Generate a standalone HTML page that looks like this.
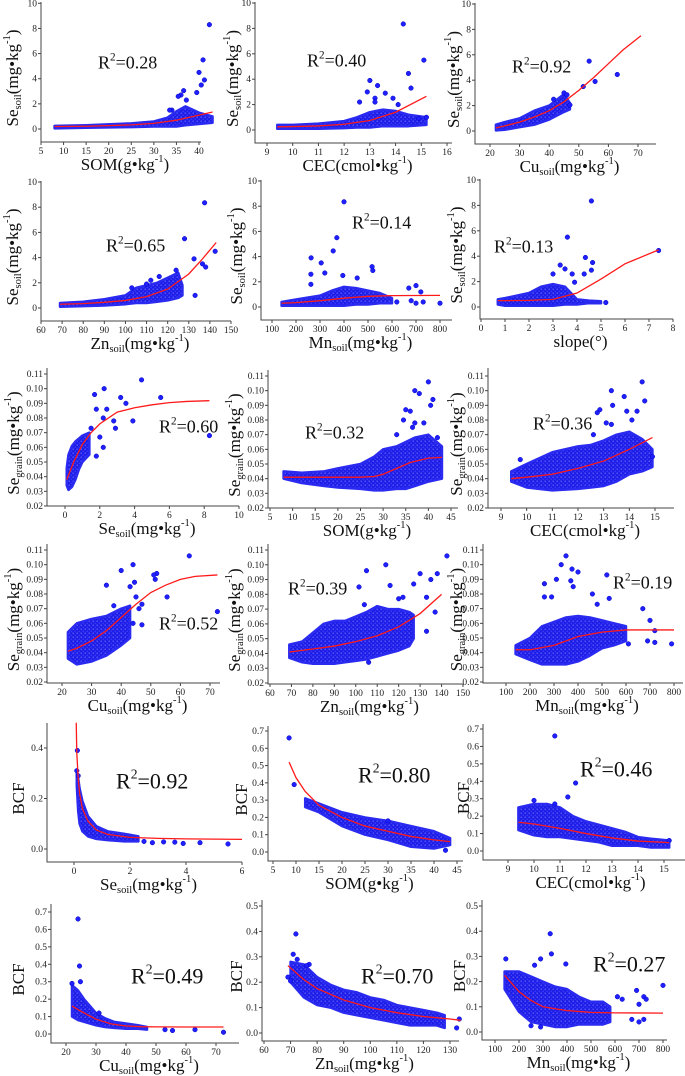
<!DOCTYPE html>
<html><head><meta charset="utf-8"><style>
html,body{margin:0;padding:0;background:#fff;}
svg{display:block;font-family:"Liberation Serif",serif;}
</style></head><body>
<svg id="fig" width="685" height="1076" viewBox="0 0 685 1076" xmlns="http://www.w3.org/2000/svg">
<defs>
<pattern id="dots" width="4" height="4" patternUnits="userSpaceOnUse">
<rect width="4" height="4" fill="#1e1ee8"/>
<circle cx="1.2" cy="1.2" r="0.7" fill="#6a6aff"/>
<circle cx="3.2" cy="3.2" r="0.6" fill="#4a4aff"/>
</pattern>
</defs>
</svg>
<script>
// ---------- DATA (per panel) ----------
const p1_curveX=[8,15,20,25,30,35,40,43], p1_curveY=[0.2,0.22,0.27,0.33,0.45,0.7,1.1,1.35];
const p1_bandX=[8,15,25,30,33,35,37,40,43], p1_bandLo=[0.05,0.1,0.15,0.2,0.2,0.2,0.3,0.4,0.5], p1_bandHi=[0.25,0.3,0.45,0.6,0.9,1.4,1.8,1.3,1.0];
const p1_ptX=[42.3,40.9,40,41.2,40.5,36.6,36,35.4,37.2,34,33.5,39.5], p1_ptY=[8.3,5.5,4.5,3.9,3.5,3.05,2.7,2.6,2.3,1.5,1.5,2.9];

const p2_curveX=[9.4,10,11,12,13,14,15.2], p2_curveY=[0.25,0.27,0.32,0.45,0.75,1.4,2.65];
const p2_bandX=[9.4,10,11,12,12.5,13,13.5,14,14.5,15.2], p2_bandLo=[0.1,0.1,0.1,0.15,0.2,0.2,0.3,0.3,0.3,0.4], p2_bandHi=[0.4,0.4,0.5,0.7,1.0,1.4,1.6,1.5,1.2,1.0];
const p2_ptX=[14.3,15.1,14.5,13,12.9,13.3,13.6,14.6,13.2,12.6,13.9,13.2,14.1,15.2,14.9], p2_ptY=[8.35,5.5,4.45,3.9,3.0,3.5,2.9,3.3,2.5,2.2,2.5,2.2,2.0,1.0,0.9];

const p3_curveX=[22,25,30,35,40,45,50,55,60,65,71], p3_curveY=[0.25,0.4,0.7,1.1,1.6,2.3,3.2,4.2,5.3,6.4,7.5];
const p3_bandX=[22,25,30,35,40,45,47], p3_bandLo=[0.05,0.1,0.3,0.5,0.9,1.5,1.7], p3_bandHi=[0.5,0.7,1.0,1.6,2.0,2.9,2.2];
const p3_ptX=[53.5,63,55.5,51.5,45,46,41.5,47], p3_ptY=[5.5,4.45,3.9,3.5,3.0,2.85,2.5,2.05];

const p4_curveX=[69,80,90,100,110,120,130,136,143], p4_curveY=[0.3,0.35,0.45,0.6,0.9,1.5,2.7,3.8,5.2];
const p4_bandX=[69,80,90,100,105,110,115,120,125,127], p4_bandLo=[0.1,0.15,0.2,0.3,0.4,0.4,0.5,0.6,0.8,1.0], p4_bandHi=[0.4,0.5,0.7,1.0,1.6,1.8,2.0,2.4,2.8,1.8];
const p4_ptX=[137.5,128,132.5,136.5,142.5,138,133,124,112,116,103,110], p4_ptY=[8.35,5.5,3.9,3.5,4.5,3.25,1.0,3.0,2.2,2.5,1.6,1.9];

const p5_curveX=[140,200,300,400,500,600,800], p5_curveY=[0.3,0.35,0.5,0.7,0.85,0.9,0.92];
const p5_bandX=[140,200,300,350,400,450,500,550,600], p5_bandLo=[0.1,0.1,0.1,0.1,0.1,0.2,0.2,0.3,0.3], p5_bandHi=[0.4,0.6,0.9,1.3,1.6,1.5,1.3,1.1,0.7];
const p5_ptX=[400,370,355,263,305,517,262,320,395,455,520,262,700,670,720,800,730,680,620,700], p5_ptY=[8.35,5.5,4.45,3.9,3.5,3.2,2.6,2.7,2.5,2.3,2.9,1.8,1.7,1.5,1.2,0.3,0.4,0.5,0.4,0.3];

const p6_curveX=[0.7,1,2,3,4,5,6,7.4], p6_curveY=[0.5,0.5,0.52,0.6,1.1,2.2,3.4,4.5];
const p6_bandX=[0.7,1,1.5,2,2.5,3,3.5,4,4.5,5], p6_bandLo=[0.2,0.1,0.1,0.1,0.1,0.1,0.2,0.2,0.3,0.3], p6_bandHi=[0.6,0.7,0.9,1.1,1.6,1.8,1.6,0.6,0.5,0.45];
const p6_ptX=[4.6,3.6,7.4,4.35,4.65,3.3,3.5,4.6,3.8,4.3,3,5.2,3.9], p6_ptY=[8.35,5.5,4.45,3.9,3.5,3.3,3.0,2.9,2.6,2.6,2.6,0.35,1.95];

const p7_curveX=[0.1,0.5,1,1.5,2,3,4,5,6,7,8.3], p7_curveY=[0.038,0.05,0.062,0.07,0.076,0.084,0.087,0.089,0.0905,0.0913,0.0918];
const p7_bandX=[0.1,0.2,0.4,0.6,0.8,1.0,1.4], p7_bandLo=[0.034,0.031,0.033,0.038,0.045,0.05,0.055], p7_bandHi=[0.046,0.055,0.061,0.064,0.066,0.068,0.07];
const p7_ptX=[4.4,2.25,1.7,3.2,5.5,3.5,1.8,2.4,2.2,3.9,2.8,2.9,2.2,1.8,8.3,1.5,2.0], p7_ptY=[0.106,0.1,0.096,0.094,0.094,0.09,0.086,0.086,0.08,0.078,0.078,0.073,0.06,0.054,0.068,0.073,0.067];

const p8_curveX=[8,15,20,25,28,30,33,36,40,43], p8_curveY=[0.041,0.041,0.041,0.041,0.0415,0.043,0.047,0.051,0.054,0.0545];
const p8_bandX=[8,12,17,20,25,28,30,33,35,37,40,43], p8_bandLo=[0.04,0.037,0.035,0.034,0.033,0.032,0.032,0.033,0.033,0.035,0.038,0.04], p8_bandHi=[0.045,0.044,0.045,0.047,0.05,0.055,0.06,0.062,0.065,0.068,0.07,0.062];
const p8_ptX=[40,37,38,40.5,41,35,36,34.5,37,33,36.5,39,42], p8_ptY=[0.106,0.1,0.098,0.09,0.094,0.087,0.086,0.08,0.078,0.07,0.075,0.078,0.068];

const p9_curveX=[9.4,10,11,12,13,14,14.9], p9_curveY=[0.04,0.041,0.043,0.047,0.052,0.06,0.068];
const p9_bandX=[9.4,10,11,12,12.5,13,13.5,14,14.5,14.9], p9_bandLo=[0.038,0.034,0.032,0.033,0.034,0.035,0.038,0.043,0.045,0.048], p9_bandHi=[0.045,0.05,0.058,0.062,0.063,0.066,0.07,0.072,0.067,0.06];
const p9_ptX=[14.5,13.3,13.8,14.6,13.35,12.85,12.75,13.9,14.3,14.1,13.1,13.3,12.6,9.75,14.9], p9_ptY=[0.106,0.1,0.096,0.093,0.09,0.087,0.085,0.086,0.086,0.08,0.078,0.077,0.07,0.053,0.055];

const p10_curveX=[22,25,30,35,40,45,50,55,60,65,72.5], p10_curveY=[0.041,0.043,0.048,0.055,0.064,0.073,0.081,0.086,0.09,0.092,0.093];
const p10_bandX=[22,25,30,35,40,43], p10_bandLo=[0.036,0.032,0.034,0.038,0.045,0.05], p10_bandHi=[0.054,0.06,0.063,0.065,0.07,0.072];
const p10_ptX=[63,44,40,52,51,51.5,44.5,43,35,45,55.5,47,46,37.5,44,47,72.5], p10_ptY=[0.106,0.1,0.096,0.094,0.093,0.09,0.088,0.085,0.086,0.078,0.078,0.073,0.07,0.072,0.06,0.059,0.068];

const p11_curveX=[69,80,90,100,110,120,130,140], p11_curveY=[0.041,0.043,0.045,0.048,0.052,0.058,0.067,0.08];
const p11_bandX=[69,75,80,85,90,95,100,105,110,115,120,125,127], p11_bandLo=[0.037,0.034,0.033,0.033,0.033,0.034,0.035,0.036,0.038,0.04,0.042,0.045,0.05], p11_bandHi=[0.046,0.048,0.054,0.06,0.062,0.062,0.065,0.068,0.072,0.07,0.07,0.068,0.066];
const p11_ptX=[142.5,114,105,130,138,135,116,101.5,127,122,133,104,120,137,133,106], p11_ptY=[0.106,0.1,0.096,0.094,0.094,0.09,0.086,0.085,0.087,0.078,0.078,0.073,0.077,0.068,0.055,0.034];

const p12_curveX=[140,200,300,400,500,600,800], p12_curveY=[0.042,0.042,0.045,0.051,0.054,0.0555,0.0555];
const p12_bandX=[140,200,250,300,350,400,450,500,550,600], p12_bandLo=[0.039,0.035,0.032,0.032,0.032,0.034,0.038,0.043,0.045,0.048], p12_bandHi=[0.045,0.05,0.058,0.061,0.064,0.065,0.064,0.062,0.06,0.058];
const p12_ptX=[350,330,375,400,260,520,310,380,370,260,460,290,670,700,720,790,720,690,610,530,480], p12_ptY=[0.106,0.1,0.097,0.095,0.087,0.093,0.09,0.085,0.089,0.078,0.08,0.078,0.07,0.062,0.055,0.046,0.047,0.048,0.046,0.077,0.073];

const p13_curveX=[0.08,0.1,0.15,0.2,0.3,0.5,0.8,1.2,2,3,4,6], p13_curveY=[0.5,0.38,0.28,0.22,0.16,0.11,0.075,0.058,0.046,0.042,0.04,0.038];
const p13_bandX=[0.1,0.15,0.2,0.3,0.5,0.8,1.2,1.8,2.3], p13_bandLo=[0.25,0.15,0.1,0.07,0.05,0.04,0.035,0.03,0.03], p13_bandHi=[0.31,0.28,0.24,0.19,0.13,0.09,0.07,0.06,0.05];
const p13_ptX=[0.12,0.1,0.15,2.5,2.8,3.2,3.6,3.9,4.5,5.5], p13_ptY=[0.39,0.31,0.29,0.03,0.025,0.028,0.027,0.022,0.025,0.02];

const p14_curveX=[8.5,10,12,15,20,25,30,35,40,43.5], p14_curveY=[0.52,0.43,0.35,0.27,0.2,0.15,0.12,0.09,0.07,0.06];
const p14_bandX=[12,15,20,25,30,35,40,43.5], p14_bandLo=[0.26,0.23,0.15,0.1,0.07,0.03,0.02,0.04], p14_bandHi=[0.31,0.28,0.23,0.2,0.18,0.15,0.12,0.08];
const p14_ptX=[8.5,9.6,30,42.5], p14_ptY=[0.66,0.39,0.18,0.01];

const p15_curveX=[9.4,10,11,12,13,14,15.2], p15_curveY=[0.165,0.155,0.13,0.1,0.075,0.057,0.048];
const p15_bandX=[9.4,10,10.5,11,11.5,12,12.5,13,13.5,14,14.5,15.2], p15_bandLo=[0.12,0.09,0.08,0.08,0.07,0.06,0.05,0.03,0.03,0.03,0.02,0.02], p15_bandHi=[0.25,0.27,0.27,0.25,0.2,0.17,0.15,0.13,0.11,0.08,0.07,0.06];
const p15_ptX=[10.8,11.6,11.3,10.8,10,15.2], p15_ptY=[0.66,0.39,0.31,0.27,0.29,0.06];

const p16_curveX=[22,25,30,35,40,45,50,60,72.5], p16_curveY=[0.16,0.13,0.085,0.058,0.046,0.042,0.041,0.04,0.04];
const p16_bandX=[22,24,26,28,30,33,36,40,44,47], p16_bandLo=[0.1,0.08,0.07,0.06,0.05,0.04,0.035,0.03,0.03,0.025], p16_bandHi=[0.28,0.25,0.2,0.16,0.12,0.09,0.07,0.06,0.05,0.04];
const p16_ptX=[24,24.5,24.8,22,31,53,55.5,63,72.5], p16_ptY=[0.66,0.39,0.3,0.29,0.12,0.025,0.02,0.025,0.01];

const p17_curveX=[69,75,80,90,100,110,120,130,134], p17_curveY=[0.265,0.21,0.175,0.13,0.1,0.08,0.065,0.055,0.05];
const p17_bandX=[70,75,80,85,90,95,100,105,110,115,120,125,128], p17_bandLo=[0.2,0.14,0.11,0.1,0.08,0.07,0.06,0.05,0.04,0.03,0.03,0.03,0.02], p17_bandHi=[0.28,0.27,0.22,0.19,0.17,0.16,0.14,0.13,0.11,0.1,0.09,0.08,0.07];
const p17_ptX=[72,71,72.5,69,70,77,76,132.5,133.5], p17_ptY=[0.39,0.31,0.29,0.22,0.205,0.27,0.265,0.02,0.055];

const p18_curveX=[140,200,250,300,400,500,600,800], p18_curveY=[0.225,0.16,0.125,0.1,0.085,0.078,0.076,0.075];
const p18_bandX=[140,200,250,300,350,400,450,500,550,580], p18_bandLo=[0.17,0.08,0.04,0.03,0.02,0.02,0.03,0.03,0.03,0.04], p18_bandHi=[0.24,0.24,0.22,0.2,0.18,0.17,0.14,0.12,0.12,0.1];
const p18_ptX=[330,335,290,145,395,265,800,690,720,730,700,670,700,720,610,630,290,250], p18_ptY=[0.39,0.31,0.29,0.29,0.27,0.265,0.185,0.165,0.14,0.13,0.11,0.05,0.04,0.05,0.14,0.13,0.02,0.025];

const r2Labels=["0.28","0.40","0.92","0.65","0.14","0.13","0.60","0.32","0.36","0.52","0.39","0.19","0.92","0.80","0.46","0.49","0.70","0.27"];
const ticksSe=[0,2,4,6,8,10], ticksGrain=[0.02,0.03,0.04,0.05,0.06,0.07,0.08,0.09,0.10,0.11];
const ticksBCF4=[0.0,0.2,0.4], ticksBCF7=[0,0.1,0.2,0.3,0.4,0.5,0.6,0.7], ticksBCF5=[0,0.1,0.2,0.3,0.4,0.5];
const ticksSOM=[5,10,15,20,25,30,35,40], ticksSOM45=[5,10,15,20,25,30,35,40,45], ticksCEC16=[9,10,11,12,13,14,15,16], ticksCEC15=[9,10,11,12,13,14,15];
const ticksCu=[20,30,40,50,60,70], ticksZn150=[60,70,80,90,100,110,120,130,140,150], ticksZn130=[60,70,80,90,100,110,120,130];
const ticksMn=[100,200,300,400,500,600,700,800], ticksSlope=[0,1,2,3,4,5,6,7,8], ticksSeSoil10=[0,2,4,6,8,10], ticksSeSoil6=[0,2,4,6];

// ---------- LAYOUT ----------
const SE=[["Se","n"],["soil","sub"],["(mg•kg","n"],["-1","sup"],[")","n"]];
const SEG=[["Se","n"],["grain","sub"],["(mg•kg","n"],["-1","sup"],[")","n"]];
const BCF=[["BCF","n"]];
const XSOM=[["SOM(g•kg","n"],["-1","sup"],[")","n"]], XCEC=[["CEC(cmol•kg","n"],["-1","sup"],[")","n"]];
const mk=n=>[[n,"n"],["soil","sub"],["(mg•kg","n"],["-1","sup"],[")","n"]];
const XSLOPE=[["slope(°)","n"]];
const panels=[
 {id:1,L:41,R:201,T:2,B:142,xm:[5,41,40,199],ym:[0,129,10,3.3],xt:ticksSOM,yt:ticksSe,yd:0,xl:XSOM,yl:SE,ylx:12,r2:[98,62],rs:18},
 {id:2,L:255,R:452,T:2,B:143,xm:[9,267,16,447],ym:[0,130,10,3],xt:ticksCEC16,yt:ticksSe,yd:0,xl:XCEC,yl:SE,ylx:232,r2:[307,60],rs:18},
 {id:3,L:475,R:656,T:3,B:144,xm:[20,490,70,638],ym:[0,131,10,4],xt:ticksCu,yt:ticksSe,yd:0,xl:mk("Cu"),yl:SE,ylx:453,r2:[512,66],rs:18},
 {id:4,L:41,R:231,T:181,B:321,xm:[60,41,150,231],ym:[0,308,10,182],xt:ticksZn150,yt:ticksSe,yd:0,xl:mk("Zn"),yl:SE,ylx:12,r2:[106,245],rs:18},
 {id:5,L:261,R:452,T:180,B:320,xm:[100,272,800,440],ym:[0,307,10,181],xt:ticksMn,yt:ticksSe,yd:0,xl:mk("Mn"),yl:SE,ylx:236,r2:[352,222],rs:18},
 {id:6,L:480,R:673,T:179,B:319,xm:[0,481,8,673],ym:[0,307,10,180],xt:ticksSlope,yt:ticksSe,yd:0,xl:XSLOPE,yl:SE,ylx:456,r2:[494,246],rs:18},
 {id:7,L:47,R:239,T:368,B:506,xm:[0,65,10,239],ym:[0.02,506,0.11,374],xt:ticksSeSoil10,yt:ticksGrain,yd:2,xl:mk("Se"),yl:SEG,ylx:13,r2:[159,426],rs:18},
 {id:8,L:268,R:458,T:370,B:508,xm:[5,270,45,451],ym:[0.02,508,0.11,376],xt:ticksSOM45,yt:ticksGrain,yd:2,xl:XSOM,yl:SEG,ylx:234,r2:[305,432],rs:18},
 {id:9,L:488,R:674,T:368,B:508,xm:[9,501,15,655],ym:[0.02,508,0.11,376],xt:ticksCEC15,yt:ticksGrain,yd:2,xl:XCEC,yl:SEG,ylx:456,r2:[533,423],rs:18},
 {id:10,L:47,R:220,T:544,B:683,xm:[20,62,70,210],ym:[0.02,682,0.11,550],xt:ticksCu,yt:ticksGrain,yd:2,xl:mk("Cu"),yl:SEG,ylx:13,r2:[159,623],rs:18},
 {id:11,L:268,R:463,T:544,B:684,xm:[60,270,150,463],ym:[0.02,683,0.11,550],xt:ticksZn150,yt:ticksGrain,yd:2,xl:mk("Zn"),yl:SEG,ylx:234,r2:[288,588],rs:18},
 {id:12,L:483,R:683,T:544,B:683,xm:[100,506,800,674],ym:[0.02,682,0.11,550],xt:ticksMn,yt:ticksGrain,yd:2,xl:mk("Mn"),yl:SEG,ylx:456,r2:[613,582],rs:18},
 {id:13,L:47,R:242,T:723,B:862,xm:[0,74,6,242],ym:[0,849,0.4,748],xt:ticksSeSoil6,yt:ticksBCF4,yd:1,xl:mk("Se"),yl:BCF,ylx:18,r2:[116,781],rs:22},
 {id:14,L:268,R:463,T:726,B:861,xm:[5,273,45,457],ym:[0,852,0.7,731],xt:ticksSOM45,yt:ticksBCF7,yd:1,xl:XSOM,yl:BCF,ylx:241,r2:[358,775],rs:22},
 {id:15,L:483,R:690,T:724,B:860,xm:[9,508,16,690],ym:[0,851,0.7,729],xt:ticksCEC16,yt:ticksBCF7,yd:1,xl:XCEC,yl:BCF,ylx:463,r2:[580,769],rs:22},
 {id:16,L:51,R:239,T:904,B:1043,xm:[20,66,70,216],ym:[0,1034,0.7,912],xt:ticksCu,yt:ticksBCF7,yd:1,xl:mk("Cu"),yl:BCF,ylx:18,r2:[131,976],rs:22},
 {id:17,L:262,R:459,T:900,B:1041,xm:[60,264,130,450],ym:[0,1033,0.5,906],xt:ticksZn130,yt:ticksBCF5,yd:1,xl:mk("Zn"),yl:BCF,ylx:236,r2:[361,976],rs:22},
 {id:18,L:482,R:667,T:900,B:1040,xm:[100,495,800,663],ym:[0,1032,0.5,906],xt:ticksMn,yt:ticksBCF5,yd:1,xl:mk("Mn"),yl:BCF,ylx:459,r2:[593,964],rs:22}
];
const DATA={
1:[p1_curveX,p1_curveY,p1_bandX,p1_bandLo,p1_bandHi,p1_ptX,p1_ptY],2:[p2_curveX,p2_curveY,p2_bandX,p2_bandLo,p2_bandHi,p2_ptX,p2_ptY],
3:[p3_curveX,p3_curveY,p3_bandX,p3_bandLo,p3_bandHi,p3_ptX,p3_ptY],4:[p4_curveX,p4_curveY,p4_bandX,p4_bandLo,p4_bandHi,p4_ptX,p4_ptY],
5:[p5_curveX,p5_curveY,p5_bandX,p5_bandLo,p5_bandHi,p5_ptX,p5_ptY],6:[p6_curveX,p6_curveY,p6_bandX,p6_bandLo,p6_bandHi,p6_ptX,p6_ptY],
7:[p7_curveX,p7_curveY,p7_bandX,p7_bandLo,p7_bandHi,p7_ptX,p7_ptY],8:[p8_curveX,p8_curveY,p8_bandX,p8_bandLo,p8_bandHi,p8_ptX,p8_ptY],
9:[p9_curveX,p9_curveY,p9_bandX,p9_bandLo,p9_bandHi,p9_ptX,p9_ptY],10:[p10_curveX,p10_curveY,p10_bandX,p10_bandLo,p10_bandHi,p10_ptX,p10_ptY],
11:[p11_curveX,p11_curveY,p11_bandX,p11_bandLo,p11_bandHi,p11_ptX,p11_ptY],12:[p12_curveX,p12_curveY,p12_bandX,p12_bandLo,p12_bandHi,p12_ptX,p12_ptY],
13:[p13_curveX,p13_curveY,p13_bandX,p13_bandLo,p13_bandHi,p13_ptX,p13_ptY],14:[p14_curveX,p14_curveY,p14_bandX,p14_bandLo,p14_bandHi,p14_ptX,p14_ptY],
15:[p15_curveX,p15_curveY,p15_bandX,p15_bandLo,p15_bandHi,p15_ptX,p15_ptY],16:[p16_curveX,p16_curveY,p16_bandX,p16_bandLo,p16_bandHi,p16_ptX,p16_ptY],
17:[p17_curveX,p17_curveY,p17_bandX,p17_bandLo,p17_bandHi,p17_ptX,p17_ptY],18:[p18_curveX,p18_curveY,p18_bandX,p18_bandLo,p18_bandHi,p18_ptX,p18_ptY]
};
const NS="http://www.w3.org/2000/svg";
const svg=document.getElementById("fig");
function E(tag,attrs,parent){const e=document.createElementNS(NS,tag);for(const k in attrs)e.setAttribute(k,attrs[k]);(parent||svg).appendChild(e);return e;}
function rich(parent,parts,size){
  parts.forEach(([t,m])=>{const s=E("tspan",{},parent);
    if(m==="sub"){s.setAttribute("font-size",size*0.62);s.setAttribute("baseline-shift","-25%");}
    else if(m==="sup"){s.setAttribute("font-size",size*0.62);s.setAttribute("baseline-shift","70%");}
    else s.setAttribute("font-size",size);
    s.textContent=t;
  });
}
panels.forEach(p=>{
  const g=E("g",{});
  
  
  const sx=v=>p.xm[1]+(v-p.xm[0])*(p.xm[3]-p.xm[1])/(p.xm[2]-p.xm[0]);
  const sy=v=>p.ym[1]+(v-p.ym[0])*(p.ym[3]-p.ym[1])/(p.ym[2]-p.ym[0]);
  const [cx,cy,bx,blo,bhi,ox,oy]=DATA[p.id];
  const ax=E("path",{d:`M${p.L},${p.T}V${p.B}H${p.R}`,fill:"none",stroke:"#444","stroke-width":1},g);
  
  
  p.yt.forEach(v=>{const y=sy(v);E("line",{x1:p.L-3,x2:p.L,y1:y,y2:y,stroke:"#444","stroke-width":1},g);
    const t=E("text",{x:p.L-4,y:y+3,"font-size":9.5,"text-anchor":"end",fill:"#222"},g);
    
    
    t.textContent=v.toFixed(p.yd);});
  p.xt.forEach(v=>{const x=sx(v);E("line",{x1:x,x2:x,y1:p.B,y2:p.B+3,stroke:"#444","stroke-width":1},g);
    const t=E("text",{x:x,y:p.B+12,"font-size":9.5,"text-anchor":"middle",fill:"#222"},g);
    
    
    t.textContent=String(v);});
  let d="M"+bx.map((v,i)=>sx(v)+","+sy(bhi[i])).join("L")+"L"+bx.slice().reverse().map((v,i)=>sx(v)+","+sy(blo[bx.length-1-i])).join("L")+"Z";
  const band=E("path",{d:d,fill:"url(#dots)",stroke:"#2a2af0","stroke-width":2.5,"stroke-linejoin":"round"},g);
  
  
  ox.forEach((v,i)=>{const c=E("circle",{cx:sx(v),cy:sy(oy[i]),r:2.3,fill:"#2020ff",stroke:"#0000c0","stroke-width":0.5},g);
    
    });
  const cl=E("path",{d:"M"+cx.map((v,i)=>sx(v)+","+sy(cy[i])).join("L"),fill:"none",stroke:"#ff1a1a","stroke-width":1.3},g);
  
  
  const xl=E("text",{x:(p.L+p.R)/2+4,y:p.B+28,"text-anchor":"middle",fill:"#111"},g);
  
  
  rich(xl,p.xl,17);
  const cyM=(p.T+p.B)/2+6;
  const yl=E("text",{x:0,y:0,"text-anchor":"middle",fill:"#111",transform:`translate(${p.ylx+6},${cyM}) rotate(-90)`},g);
  
  
  rich(yl,p.yl,17);
  const r=E("text",{x:p.r2[0],y:p.r2[1]+p.rs*0.35,fill:"#111"},g);
  
  
  rich(r,[["R","n"],["2","sup"],["="+r2Labels[p.id-1],"n"]],p.rs);
});
</script>
</body></html>
